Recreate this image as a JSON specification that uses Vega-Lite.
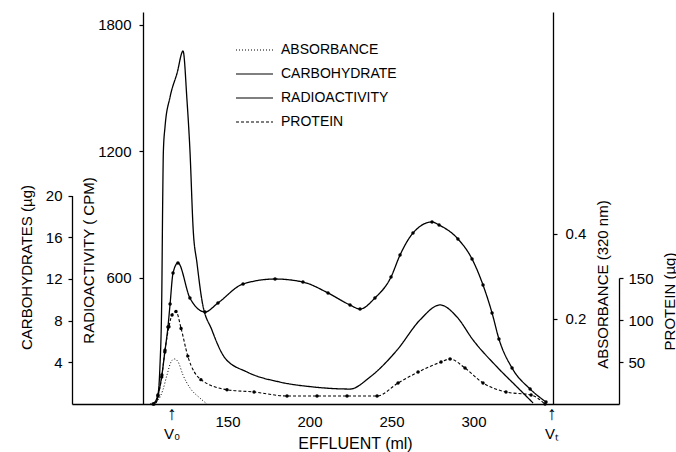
{
  "$schema": "https://vega.github.io/schema/vega-lite/v6.json",
  "width": 547,
  "height": 392,
  "autosize": {"type": "none"},
  "padding": {"left": 72, "top": 12, "right": 57, "bottom": 48},
  "background": "white",
  "view": {"stroke": null},
  "config": {
    "font": "Liberation Sans",
    "axis": {"grid": false, "domainColor": "black", "tickColor": "black", "labelColor": "black", "titleColor": "black", "titleFontWeight": "normal", "labelFontSize": 15, "titleFontSize": 15, "domainWidth": 1.3, "tickWidth": 1.2, "tickSize": 4}
  },
  "datasets": {
    "curves": [
      {"series": "RADIOACTIVITY", "ml": 106.4, "value": 5},
      {"series": "RADIOACTIVITY", "ml": 107.6, "value": 40},
      {"series": "RADIOACTIVITY", "ml": 108.8, "value": 176},
      {"series": "RADIOACTIVITY", "ml": 109.9, "value": 493},
      {"series": "RADIOACTIVITY", "ml": 110.5, "value": 968},
      {"series": "RADIOACTIVITY", "ml": 110.9, "value": 1196},
      {"series": "RADIOACTIVITY", "ml": 111.9, "value": 1314},
      {"series": "RADIOACTIVITY", "ml": 115.0, "value": 1457},
      {"series": "RADIOACTIVITY", "ml": 119.3, "value": 1571},
      {"series": "RADIOACTIVITY", "ml": 122.9, "value": 1675},
      {"series": "RADIOACTIVITY", "ml": 125.3, "value": 1442},
      {"series": "RADIOACTIVITY", "ml": 127.1, "value": 1205},
      {"series": "RADIOACTIVITY", "ml": 129.1, "value": 826},
      {"series": "RADIOACTIVITY", "ml": 131.4, "value": 669},
      {"series": "RADIOACTIVITY", "ml": 134.4, "value": 493},
      {"series": "RADIOACTIVITY", "ml": 140.5, "value": 351},
      {"series": "RADIOACTIVITY", "ml": 148.5, "value": 218},
      {"series": "RADIOACTIVITY", "ml": 161.9, "value": 152},
      {"series": "RADIOACTIVITY", "ml": 182.0, "value": 104},
      {"series": "RADIOACTIVITY", "ml": 202.1, "value": 81},
      {"series": "RADIOACTIVITY", "ml": 224.7, "value": 71},
      {"series": "RADIOACTIVITY", "ml": 236.9, "value": 128},
      {"series": "RADIOACTIVITY", "ml": 253.4, "value": 256},
      {"series": "RADIOACTIVITY", "ml": 267.4, "value": 399},
      {"series": "RADIOACTIVITY", "ml": 279.6, "value": 470},
      {"series": "RADIOACTIVITY", "ml": 289.9, "value": 413},
      {"series": "RADIOACTIVITY", "ml": 299.7, "value": 304},
      {"series": "RADIOACTIVITY", "ml": 314.3, "value": 176},
      {"series": "RADIOACTIVITY", "ml": 326.5, "value": 81},
      {"series": "RADIOACTIVITY", "ml": 336.3, "value": 5},

      {"series": "CARBOHYDRATE", "ml": 104.6, "value": 0},
      {"series": "CARBOHYDRATE", "ml": 107.6, "value": 0.86},
      {"series": "CARBOHYDRATE", "ml": 110.0, "value": 2.78},
      {"series": "CARBOHYDRATE", "ml": 111.8, "value": 4.99},
      {"series": "CARBOHYDRATE", "ml": 113.7, "value": 7.39},
      {"series": "CARBOHYDRATE", "ml": 115.0, "value": 9.59},
      {"series": "CARBOHYDRATE", "ml": 116.8, "value": 12.57},
      {"series": "CARBOHYDRATE", "ml": 119.8, "value": 13.53},
      {"series": "CARBOHYDRATE", "ml": 127.1, "value": 10.17},
      {"series": "CARBOHYDRATE", "ml": 136.3, "value": 8.83},
      {"series": "CARBOHYDRATE", "ml": 144.2, "value": 9.69},
      {"series": "CARBOHYDRATE", "ml": 159.5, "value": 11.51},
      {"series": "CARBOHYDRATE", "ml": 179.0, "value": 11.99},
      {"series": "CARBOHYDRATE", "ml": 196.0, "value": 11.70},
      {"series": "CARBOHYDRATE", "ml": 211.3, "value": 10.65},
      {"series": "CARBOHYDRATE", "ml": 224.7, "value": 9.50},
      {"series": "CARBOHYDRATE", "ml": 230.8, "value": 9.11},
      {"series": "CARBOHYDRATE", "ml": 239.9, "value": 10.17},
      {"series": "CARBOHYDRATE", "ml": 249.7, "value": 12.18},
      {"series": "CARBOHYDRATE", "ml": 255.2, "value": 14.29},
      {"series": "CARBOHYDRATE", "ml": 263.1, "value": 16.40},
      {"series": "CARBOHYDRATE", "ml": 274.7, "value": 17.46},
      {"series": "CARBOHYDRATE", "ml": 279.0, "value": 17.17},
      {"series": "CARBOHYDRATE", "ml": 290.5, "value": 15.83},
      {"series": "CARBOHYDRATE", "ml": 299.1, "value": 13.91},
      {"series": "CARBOHYDRATE", "ml": 305.8, "value": 11.41},
      {"series": "CARBOHYDRATE", "ml": 311.3, "value": 8.73},
      {"series": "CARBOHYDRATE", "ml": 315.5, "value": 6.24},
      {"series": "CARBOHYDRATE", "ml": 323.5, "value": 3.45},
      {"series": "CARBOHYDRATE", "ml": 334.5, "value": 1.44},
      {"series": "CARBOHYDRATE", "ml": 344.2, "value": 0.19},

      {"series": "ABSORBANCE", "ml": 102.8, "value": 0},
      {"series": "ABSORBANCE", "ml": 107.6, "value": 0.009},
      {"series": "ABSORBANCE", "ml": 110.6, "value": 0.033},
      {"series": "ABSORBANCE", "ml": 113.1, "value": 0.068},
      {"series": "ABSORBANCE", "ml": 115.6, "value": 0.099},
      {"series": "ABSORBANCE", "ml": 117.6, "value": 0.106},
      {"series": "ABSORBANCE", "ml": 119.9, "value": 0.099},
      {"series": "ABSORBANCE", "ml": 122.9, "value": 0.068},
      {"series": "ABSORBANCE", "ml": 127.1, "value": 0.038},
      {"series": "ABSORBANCE", "ml": 133.2, "value": 0.014},
      {"series": "ABSORBANCE", "ml": 137.5, "value": 0},

      {"series": "PROTEIN", "ml": 105.2, "value": 0},
      {"series": "PROTEIN", "ml": 107.6, "value": 9.5},
      {"series": "PROTEIN", "ml": 109.9, "value": 32},
      {"series": "PROTEIN", "ml": 111.9, "value": 64},
      {"series": "PROTEIN", "ml": 114.3, "value": 92},
      {"series": "PROTEIN", "ml": 116.2, "value": 106},
      {"series": "PROTEIN", "ml": 118.6, "value": 110},
      {"series": "PROTEIN", "ml": 121.7, "value": 90},
      {"series": "PROTEIN", "ml": 125.8, "value": 57},
      {"series": "PROTEIN", "ml": 133.8, "value": 29},
      {"series": "PROTEIN", "ml": 149.7, "value": 17},
      {"series": "PROTEIN", "ml": 166.2, "value": 14.3},
      {"series": "PROTEIN", "ml": 186.3, "value": 9.5},
      {"series": "PROTEIN", "ml": 204.6, "value": 9.5},
      {"series": "PROTEIN", "ml": 222.9, "value": 9.5},
      {"series": "PROTEIN", "ml": 241.2, "value": 9.5},
      {"series": "PROTEIN", "ml": 254.0, "value": 25},
      {"series": "PROTEIN", "ml": 266.2, "value": 38},
      {"series": "PROTEIN", "ml": 280.2, "value": 50},
      {"series": "PROTEIN", "ml": 285.7, "value": 53.6},
      {"series": "PROTEIN", "ml": 294.8, "value": 42.8},
      {"series": "PROTEIN", "ml": 305.8, "value": 25},
      {"series": "PROTEIN", "ml": 319.8, "value": 14.3},
      {"series": "PROTEIN", "ml": 335.1, "value": 10.7},
      {"series": "PROTEIN", "ml": 343.6, "value": 0}
    ],
    "volumes": [
      {"label": "V₀", "ml": 116.2},
      {"label": "Vₜ", "ml": 347.9}
    ]
  },
  "data": {"name": "curves"},
  "encoding": {
    "x": {
      "field": "ml", "type": "quantitative",
      "scale": {"domain": [55.2, 388.7], "nice": false, "zero": false},
      "axis": {"orient": "bottom", "values": [150, 200, 250, 300], "ticks": false, "labelPadding": 10, "title": "EFFLUENT (ml)", "titleFontSize": 16, "titleX": 283, "titleY": 39, "titleAlign": "center", "titleBaseline": "middle"}
    }
  },
  "layer": [
    {
      "layer": [
        {
          "transform": [{"filter": "datum.series === 'RADIOACTIVITY'"}],
          "mark": {"type": "line", "interpolate": "monotone", "color": "black", "strokeWidth": 1.3},
          "encoding": {
            "y": {"field": "value", "type": "quantitative", "scale": {"domain": [0, 1860], "nice": false}, "axis": {"orient": "left", "offset": -71, "values": [600, 1200, 1800], "format": "d", "labelPadding": 8, "title": "RADIOACTIVITY ( CPM)", "titleX": -55, "titleY": 248, "titleAngle": 270, "titleAlign": "center", "titleBaseline": "middle"}},
            "strokeDash": {"field": "series", "type": "nominal", "scale": {"domain": ["ABSORBANCE", "CARBOHYDRATE", "RADIOACTIVITY", "PROTEIN"], "range": [[1, 2], [1, 0], [1, 0], [3, 2]]}, "legend": {"orient": "none", "legendX": 163, "legendY": 28, "title": null, "symbolType": "stroke", "symbolSize": 1369, "symbolStrokeColor": "black", "symbolStrokeWidth": 1.2, "clipHeight": 20, "rowPadding": 4, "labelFontSize": 14, "labelOffset": 7, "padding": 0, "labelColor": "black"}}
          }
        },
        {
          "data": {"values": [{}]},
          "mark": {"type": "rule", "color": "black", "strokeWidth": 1.3},
          "encoding": {"x": {"datum": 98.5}, "x2": {"datum": 348.5}, "y": {"datum": 1860}}
        },
        {
          "data": {"name": "volumes"},
          "mark": {"type": "text", "baseline": "top", "dy": 1, "fontSize": 19, "color": "black"},
          "encoding": {"y": {"datum": 0}, "text": {"value": "↑"}}
        },
        {
          "data": {"name": "volumes"},
          "mark": {"type": "text", "baseline": "top", "dy": 23, "fontSize": 15, "color": "black"},
          "encoding": {"y": {"datum": 0}, "text": {"field": "label"}}
        }
      ]
    },
    {
      "transform": [{"filter": "datum.series === 'CARBOHYDRATE'"}],
      "mark": {"type": "line", "interpolate": "monotone", "color": "black", "strokeWidth": 1.3, "point": {"filled": true, "size": 12, "color": "black"}},
      "encoding": {
        "y": {"field": "value", "type": "quantitative", "scale": {"domain": [0, 20], "range": [392, 183.5], "nice": false}, "axis": {"orient": "left", "offset": 0, "values": [4, 8, 12, 16, 20], "labelPadding": 6, "title": "CARBOHYDRATES (µg)", "titleX": -46, "titleY": 255, "titleAngle": 270, "titleAlign": "center", "titleBaseline": "middle"}},
        "strokeDash": {"field": "series", "type": "nominal", "scale": {"domain": ["ABSORBANCE", "CARBOHYDRATE", "RADIOACTIVITY", "PROTEIN"], "range": [[1, 2], [1, 0], [1, 0], [3, 2]]}}
      }
    },
    {
      "transform": [{"filter": "datum.series === 'ABSORBANCE'"}],
      "mark": {"type": "line", "interpolate": "monotone", "color": "black", "strokeWidth": 1},
      "encoding": {
        "y": {"field": "value", "type": "quantitative", "scale": {"domain": [0, 0.922], "nice": false}, "axis": {"orient": "right", "offset": -66, "values": [0.2, 0.4], "format": ".1f", "labelPadding": 8, "title": "ABSORBANCE  (320 nm)", "titleX": 49, "titleY": 272, "titleAngle": 270, "titleAlign": "center", "titleBaseline": "middle"}},
        "strokeDash": {"field": "series", "type": "nominal", "scale": {"domain": ["ABSORBANCE", "CARBOHYDRATE", "RADIOACTIVITY", "PROTEIN"], "range": [[1, 2], [1, 0], [1, 0], [3, 2]]}}
      }
    },
    {
      "transform": [{"filter": "datum.series === 'PROTEIN'"}],
      "mark": {"type": "line", "interpolate": "monotone", "color": "black", "strokeWidth": 1.1, "point": {"filled": true, "size": 12, "color": "black"}},
      "encoding": {
        "y": {"field": "value", "type": "quantitative", "scale": {"domain": [0, 150], "range": [392, 266], "nice": false}, "axis": {"orient": "right", "offset": 0, "values": [50, 100, 150], "labelPadding": 5, "title": "PROTEIN (µg)", "titleX": 50, "titleY": 289, "titleAngle": 270, "titleAlign": "center", "titleBaseline": "middle"}},
        "strokeDash": {"field": "series", "type": "nominal", "scale": {"domain": ["ABSORBANCE", "CARBOHYDRATE", "RADIOACTIVITY", "PROTEIN"], "range": [[1, 2], [1, 0], [1, 0], [3, 2]]}}
      }
    }
  ],
  "resolve": {"scale": {"y": "independent"}, "axis": {"y": "independent"}}
}
